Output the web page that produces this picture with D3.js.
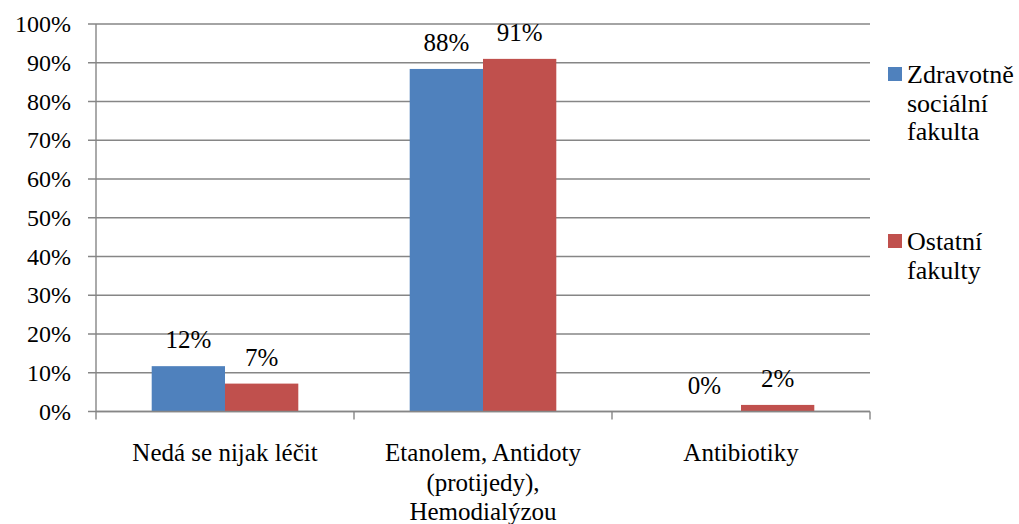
<!DOCTYPE html>
<html><head><meta charset="utf-8">
<script src="https://cdn.jsdelivr.net/npm/d3@7"></script>
<style>body{margin:0;background:#fff}svg{display:block}text{fill:#000}</style>
</head><body>
<svg id="c" width="1019" height="524"></svg>
<script>
const categories = [["Nedá se nijak léčit"], ["Etanolem, Antidoty", "(protijedy),", "Hemodialýzou"], ["Antibiotiky"]];
const seriesNames = [["Zdravotně", "sociální", "fakulta"], ["Ostatní", "fakulty"]];
const zsfValues = [0.117, 0.884, 0];
const otherValues = [0.072, 0.91, 0.017];
const zsfLabels = ["12%", "88%", "0%"];
const otherLabels = ["7%", "91%", "2%"];
const yTicks = [0, 0.1, 0.2, 0.3, 0.4, 0.5, 0.6, 0.7, 0.8, 0.9, 1.0];
const colors = ["#4F81BD", "#C0504D"];

const FONT = "'Liberation Serif', Tinos, 'Times New Roman', Times, 'DejaVu Serif', serif";
const svg = d3.select("#c").attr("font-family", FONT);
const L = 96, R = 870, T = 24, B = 411.5;
const x = d3.scaleBand().domain(d3.range(categories.length)).range([L, R]).paddingInner(0).paddingOuter(0);
const y = d3.scaleLinear().domain([0, 1]).range([B, T]);
const bw = 73.3;
const grid = "#868686";

svg.append("g").selectAll("line").data(yTicks).join("line")
  .attr("x1", L - 8).attr("x2", R).attr("y1", d => y(d)).attr("y2", d => y(d))
  .attr("stroke", grid).attr("stroke-width", 1.4);
svg.append("line").attr("x1", L).attr("x2", L).attr("y1", T).attr("y2", B)
  .attr("stroke", grid).attr("stroke-width", 1.4);
svg.append("g").selectAll("text").data(yTicks).join("text")
  .attr("x", 71).attr("y", d => y(d)).attr("dy", "0.34em")
  .attr("text-anchor", "end").attr("font-size", 24).attr("font-family", FONT)
  .text(d => d3.format(".0%")(d));

const series = [zsfValues, otherValues];
const labels = [zsfLabels, otherLabels];
series.forEach((vals, s) => {
  const g = svg.append("g");
  g.selectAll("rect").data(vals).join("rect")
    .attr("x", (d, i) => x(i) + x.bandwidth() / 2 - bw + s * bw)
    .attr("width", bw)
    .attr("y", d => y(d)).attr("height", d => B - y(d))
    .attr("fill", colors[s]);
  g.selectAll("text").data(vals).join("text")
    .attr("x", (d, i) => x(i) + x.bandwidth() / 2 - bw / 2 + s * bw)
    .attr("y", d => y(d) - 18)
    .attr("text-anchor", "middle").attr("font-size", 25).attr("font-family", FONT)
    .text((d, i) => labels[s][i]);
});

svg.append("line").attr("x1", L).attr("x2", R).attr("y1", B).attr("y2", B)
  .attr("stroke", grid).attr("stroke-width", 1.4);
const edges = d3.range(categories.length + 1).map(i => L + i * x.step());
svg.append("g").selectAll("line").data(edges).join("line")
  .attr("x1", d => d).attr("x2", d => d).attr("y1", B).attr("y2", B + 8)
  .attr("stroke", grid).attr("stroke-width", 1.4);

const cl = svg.append("g").selectAll("text").data(categories).join("text")
  .attr("text-anchor", "middle").attr("font-size", 25).attr("font-family", FONT)
  .attr("x", (d, i) => x(i) + x.bandwidth() / 2).attr("y", 461);
cl.selectAll("tspan").data(d => d).join("tspan")
  .attr("x", function () { return this.parentNode.getAttribute("x"); })
  .attr("dy", (d, i) => i === 0 ? 0 : 29.5).text(d => d);

const legendY = [83, 250];
seriesNames.forEach((lines, s) => {
  svg.append("rect").attr("x", 888).attr("y", legendY[s] - 16).attr("width", 14).attr("height", 14).attr("fill", colors[s]);
  const t = svg.append("text").attr("x", 907).attr("y", legendY[s]).attr("font-size", 26).attr("font-family", FONT);
  t.selectAll("tspan").data(lines).join("tspan").attr("x", 907)
    .attr("dy", (d, i) => i === 0 ? 0 : 28.5).text(d => d);
});
</script>
</body></html>
